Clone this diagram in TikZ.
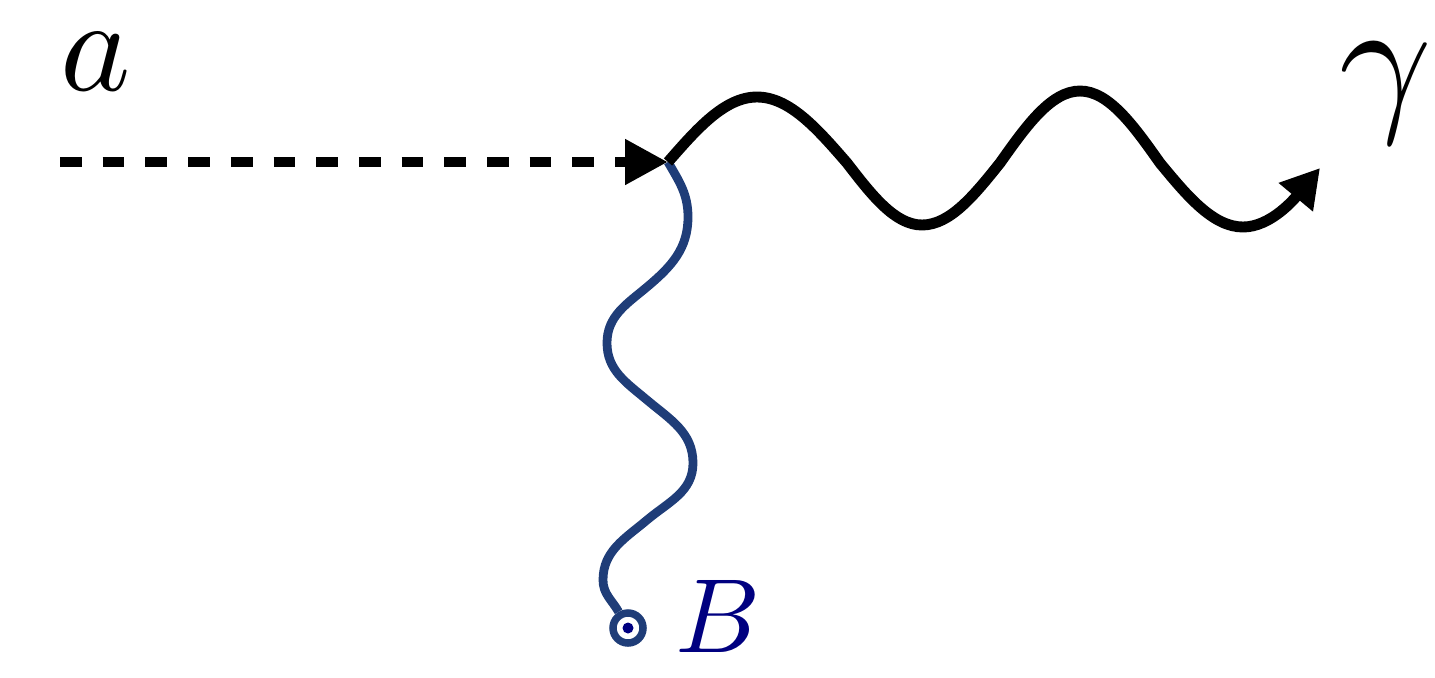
\documentclass[tikz,border=0pt]{standalone}
\usepackage{amsmath, amssymb}
\usepackage{tikz}
\usetikzlibrary{arrows.meta, positioning}
\definecolor{FieldColor}{RGB}{31,61,120}
\definecolor{LabelColor}{RGB}{0,0,128}

\begin{document}
\begin{tikzpicture}[>=Latex, thick]
    \tikzset{
        scalar/.style={line width=3.1pt, dash pattern=on 0.217cm off 0.21cm, -{Triangle[length=0.43cm, width=0.43cm]}},
        photon/.style={line width=3.1pt, -{Triangle[length=0.38cm, width=0.42cm]}},
        field/.style={line width=2.5pt, FieldColor},
        source/.style={circle, draw=FieldColor, line width=0.075cm, minimum size=0.3cm, inner sep=0pt}
    }
    \useasboundingbox (0,0) rectangle (14.35,6.77);
    % Vertex and free ends
    \coordinate (vtx) at (6.68,5.15);
    \coordinate (aIn) at (0.60,5.15);
    \coordinate (gOut) at (13.20,5.09);
    \node[source] (bSrc) at (6.28,0.49) {};
    \fill[LabelColor] (bSrc.center) circle (0.055);
    % Labels
    \node[scale=3.8, inner sep=0pt] (aLbl) at (0.96,6.15) {$a$};
    \node[scale=4.6, inner sep=0pt] (gLbl) at (13.86,5.84) {$\gamma$};
    \node[scale=3.0, inner sep=0pt, text=LabelColor] (bLbl) at (7.18,0.61) {$B$};
    % External field line
    \draw[field] (vtx) to[out=-60, in=90] ++(0.20,-0.55)
        to[out=-90, in=40] ++(-0.41,-0.70)
        to[out=220, in=90] ++(-0.40,-0.56)
        to[out=-90, in=140] ++(0.40,-0.57)
        to[out=-40, in=90] ++(0.46,-0.63)
        to[out=-90, in=40] ++(-0.46,-0.57)
        to[out=220, in=90] ++(-0.44,-0.60)
        to[out=-90, in=120] (bSrc);
    % Incoming axion
    \draw[scalar] (aIn) -- (vtx);
    % Outgoing photon
    \draw[photon] (vtx) sin ++(0.89,0.65) cos ++(0.90,-0.66)
        sin ++(0.75,-0.62) cos ++(0.78,0.62)
        sin ++(0.80,0.72) cos ++(0.80,-0.72)
        sin ++(0.83,-0.64) cos (gOut);
\end{tikzpicture}
\end{document}
